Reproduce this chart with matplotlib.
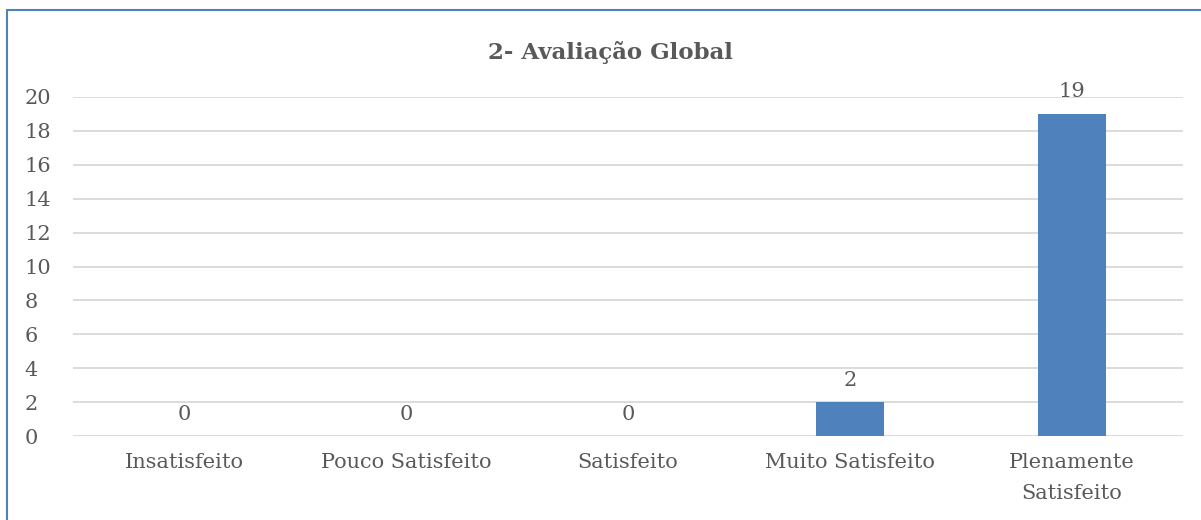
import matplotlib
matplotlib.use("Agg")
import matplotlib.pyplot as plt
from matplotlib.patches import Rectangle

categories = ["Insatisfeito", "Pouco Satisfeito", "Satisfeito", "Muito Satisfeito", "Plenamente\nSatisfeito"]
values = [0, 0, 0, 2, 19]
yticks = [0, 2, 4, 6, 8, 10, 12, 14, 16, 18, 20]

TEXT = "#595959"
BAR = "#4F81BD"
GRID = "#D9D9D9"
FS = 15

plt.rcParams["font.family"] = ["DejaVu Serif"]

fig = plt.figure(figsize=(12.01, 5.2), dpi=100)
ax = fig.add_axes([73 / 1201, 1 - 436 / 520, 1110 / 1201, 339 / 520])

x = list(range(len(categories)))
ax.bar(x, values, width=0.31, color=BAR, zorder=3)

ax.set_xlim(-0.5, len(categories) - 0.5)
ax.set_ylim(0, 20)
ax.set_yticks(yticks)
ax.set_xticks(x)
ax.set_xticklabels(categories, fontsize=FS, color=TEXT, linespacing=1.75)
ax.tick_params(axis="y", labelsize=FS, labelcolor=TEXT, length=0, pad=35)
ax.tick_params(axis="x", length=0, pad=12.5)
for lbl in ax.get_yticklabels():
    lbl.set_horizontalalignment("left")

ax.grid(axis="y", color=GRID, linewidth=1.3, zorder=0)
for s in ax.spines.values():
    s.set_visible(False)

# etiquetas de dados acima das barras
for xi, v in zip(x, values):
    ax.annotate(str(v), (xi, v), xytext=(0, 9), textcoords="offset points",
                ha="center", va="bottom", fontsize=FS, color=TEXT)

fig.text(0.508, 0.9, "2- Avaliação Global", ha="center", va="center",
         fontsize=16.5, fontweight="bold", color=TEXT)

fig.patches.append(Rectangle((7 / 1201, -0.1), 1.2, 1 - 10 / 520 + 0.1,
                             transform=fig.transFigure, fill=False,
                             edgecolor=BAR, linewidth=1.5))

fig.savefig("out.png", dpi=100)
